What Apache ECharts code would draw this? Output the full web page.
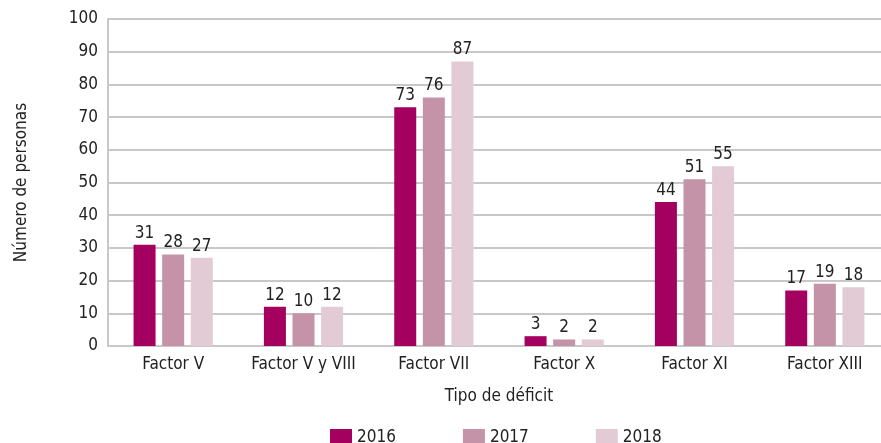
<!DOCTYPE html>
<html><head><meta charset="utf-8">
<script src="https://cdn.jsdelivr.net/npm/echarts@6/dist/echarts.min.js"></script>
<style>html,body{margin:0;padding:0;background:#fff;overflow:hidden}#c{width:881px;height:443px}</style>
</head><body><div id="c"></div>
<script>
const categories = ['Factor V', 'Factor V y VIII', 'Factor VII', 'Factor X', 'Factor XI', 'Factor XIII'];
const years = ['2016', '2017', '2018'];
const values2016 = [31, 12, 73, 3, 44, 17];
const values2017 = [28, 10, 76, 2, 51, 19];
const values2018 = [27, 12, 87, 2, 55, 18];
const colors = ['#a3005f', '#c593a8', '#e2cbd5'];
const FONT = '"DejaVu Sans Condensed", "Open Sans", sans-serif';
const chart = echarts.init(document.getElementById('c'));
const mk = (name, data, i) => ({
  name, type: 'bar', data, barWidth: 22, barGap: '30%',
  itemStyle: { color: colors[i] },
  label: { show: true, position: 'top', distance: 3, color: '#222', fontSize: 17, fontFamily: FONT },
  animation: false
});
chart.setOption({
  animation: false,
  textStyle: { fontFamily: FONT },
  grid: { left: 108, width: 782, top: 19, bottom: 97, outerBoundsMode: 'none' },
  legend: {
    bottom: -9, left: 325, itemWidth: 22, itemHeight: 18, itemGap: 67,
    textStyle: { fontSize: 17, color: '#222', fontFamily: FONT },
    icon: 'rect', data: years
  },
  xAxis: {
    type: 'category', data: categories,
    name: 'Tipo de déficit', nameLocation: 'middle', nameGap: 42,
    nameTextStyle: { fontSize: 17, color: '#222', fontFamily: FONT },
    axisLine: { lineStyle: { color: '#c8c8c8', width: 2 } },
    axisTick: { show: false },
    axisLabel: { interval: 0, fontSize: 17, color: '#222', margin: 10, fontFamily: FONT }
  },
  yAxis: {
    type: 'value', min: 0, max: 100, interval: 10,
    name: 'Número de personas', nameLocation: 'middle', nameGap: 78, nameRotate: 90,
    nameTextStyle: { fontSize: 17, color: '#222', fontFamily: FONT },
    axisLine: { show: true, lineStyle: { color: '#c8c8c8', width: 2 } },
    axisTick: { show: false },
    splitLine: { lineStyle: { color: '#c8c8c8', width: 2 } },
    axisLabel: { fontSize: 17, color: '#222', margin: 10, fontFamily: FONT }
  },
  series: [mk(years[0], values2016, 0), mk(years[1], values2017, 1), mk(years[2], values2018, 2)]
});
</script></body></html>
